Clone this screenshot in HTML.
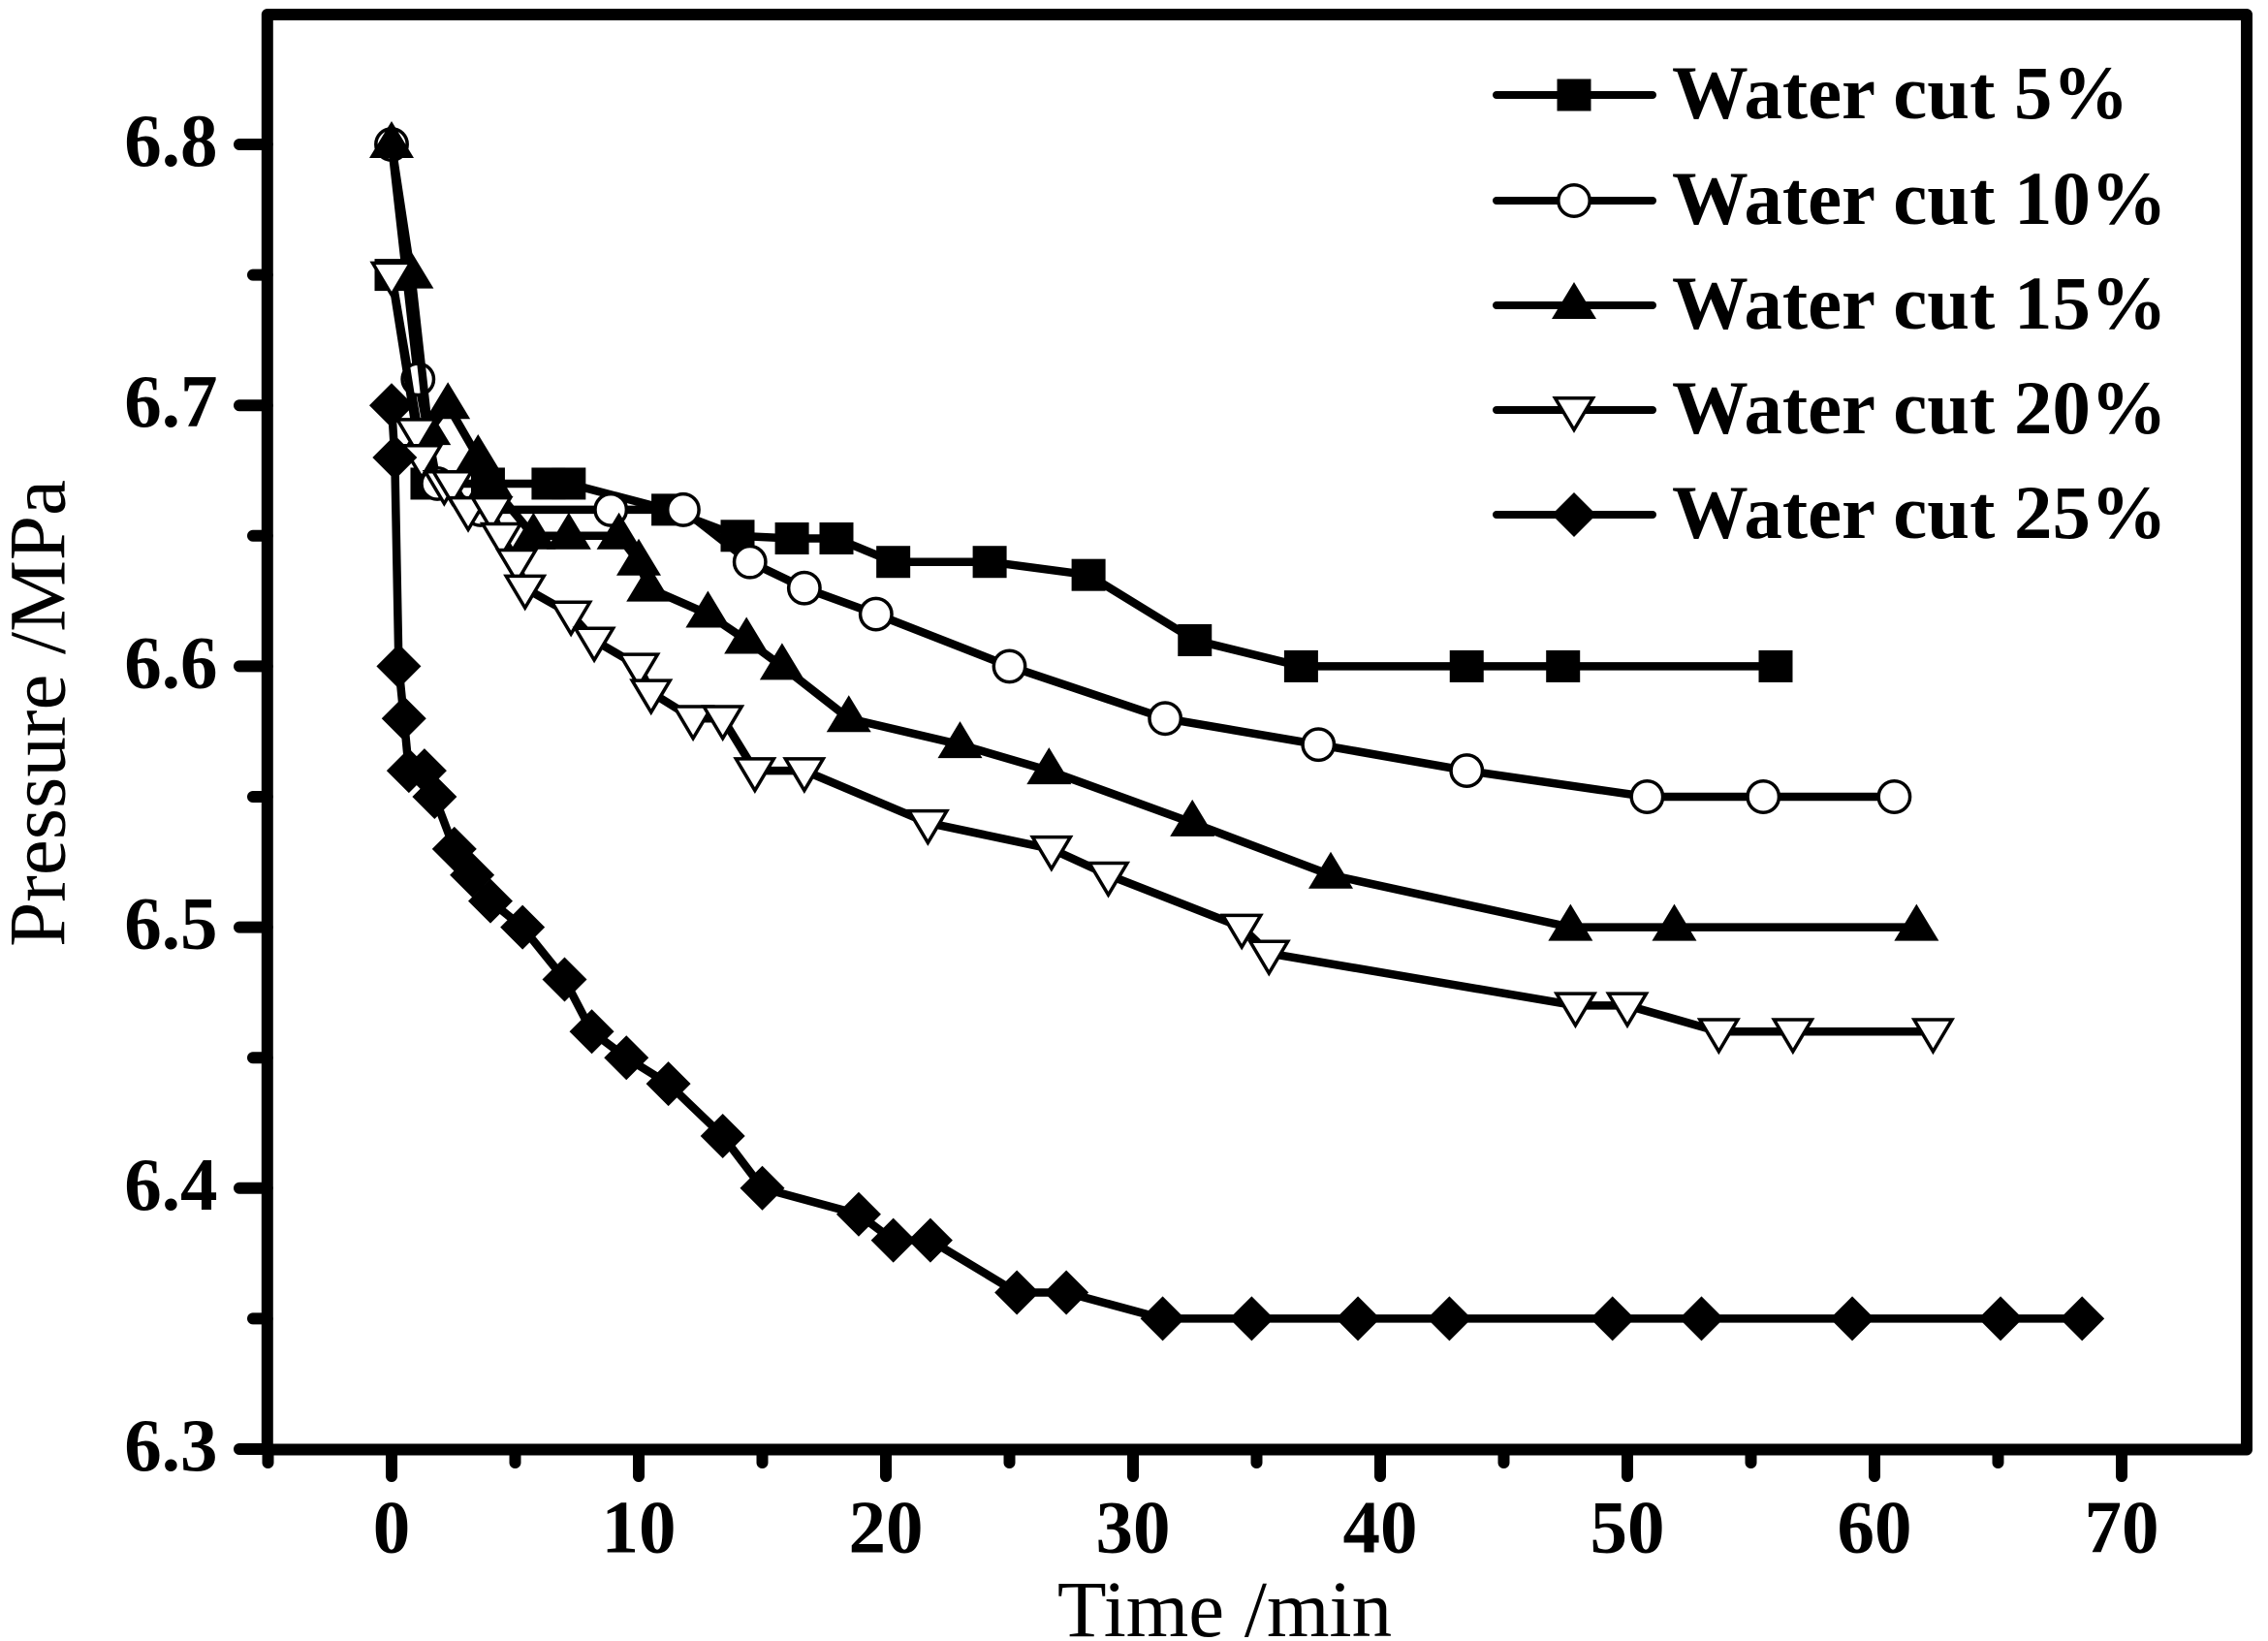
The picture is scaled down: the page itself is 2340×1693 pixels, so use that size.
<!DOCTYPE html>
<html lang="en">
<head>
<meta charset="utf-8">
<title>Pressure vs Time</title>
<style>
html,body{margin:0;padding:0;background:#fff;}
svg{display:block;}
text{font-family:"Liberation Serif",serif;fill:#000;}
</style>
</head>
<body>
<svg id="chart" xmlns="http://www.w3.org/2000/svg" width="2340" height="1693" viewBox="0 0 2340 1693">
<rect width="2340" height="1693" fill="#fff"/>
<g id="series-layer"></g>
<g id="axes-layer"></g>
<text x="1263.5" y="1688" font-size="83" text-anchor="middle">Time /min</text>
<text transform="translate(66.5,736) rotate(-90)" font-size="83" text-anchor="middle">Pressure /MPa</text>
<g id="legend-layer"></g>
</svg>
<script>
const xTickLabels = [0, 10, 20, 30, 40, 50, 60, 70];
const xMinorTicks = [-5, 5, 15, 25, 35, 45, 55, 65];
const yTickLabels = ['6.3', '6.4', '6.5', '6.6', '6.7', '6.8'];
const yMinorTicks = [6.35, 6.45, 6.55, 6.65, 6.75];

const seriesNames = ['Water cut 5%', 'Water cut 10%', 'Water cut 15%', 'Water cut 20%', 'Water cut 25%'];

const time5 = [0, 1.45, 3.9, 6.35, 7.17, 11.2, 14.0, 16.2, 18, 20.3, 24.2, 28.2, 32.5, 36.8, 43.5, 47.4, 56];
const pressure5 = [6.75, 6.67, 6.67, 6.67, 6.67, 6.66, 6.65, 6.649, 6.649, 6.64, 6.64, 6.635, 6.61, 6.6, 6.6, 6.6, 6.6];

const time10 = [0, 1.07, 1.85, 3.6, 8.87, 11.8, 14.5, 16.7, 19.6, 25, 31.3, 37.5, 43.5, 50.8, 55.5, 60.8];
const pressure10 = [6.8, 6.71, 6.67, 6.66, 6.66, 6.66, 6.64, 6.63, 6.62, 6.6, 6.58, 6.57, 6.56, 6.55, 6.55, 6.55];

const time15 = [0, 0.8, 1.5, 2.28, 3.5, 4, 5.74, 7.17, 9.2, 10, 10.4, 12.8, 14.36, 15.8, 18.5, 23, 26.6, 32.4, 38, 47.7, 51.9, 61.7];
const pressure15 = [6.8, 6.75, 6.69, 6.7, 6.68, 6.67, 6.65, 6.65, 6.65, 6.64, 6.63, 6.62, 6.61, 6.6, 6.58, 6.57, 6.56, 6.54, 6.52, 6.5, 6.5, 6.5];

const time20 = [0, 1, 1.22, 2.13, 2.46, 3.1, 4.04, 4.45, 5.07, 5.4, 7.26, 8.2, 10, 10.5, 12.2, 13.4, 14.7, 16.7, 21.7, 26.7, 29, 34.4, 35.5, 47.9, 50, 53.7, 56.7, 62.37];
const pressure20 = [6.75, 6.69, 6.68, 6.67, 6.67, 6.66, 6.66, 6.65, 6.64, 6.63, 6.62, 6.61, 6.6, 6.59, 6.58, 6.58, 6.56, 6.56, 6.54, 6.53, 6.52, 6.5, 6.49, 6.47, 6.47, 6.46, 6.46, 6.46];

const time25 = [0, 0.13, 0.29, 0.5, 0.7, 1.33, 1.74, 2.54, 3.26, 4, 5.3, 7, 8.1, 9.5, 11.2, 13.4, 15, 18.9, 20.3, 21.8, 25.3, 27.3, 31.2, 34.8, 39.1, 42.8, 49.4, 53, 59.1, 65.1, 68.4];
const pressure25 = [6.7, 6.68, 6.6, 6.58, 6.56, 6.56, 6.55, 6.53, 6.52, 6.51, 6.5, 6.48, 6.46, 6.45, 6.44, 6.42, 6.4, 6.39, 6.38, 6.38, 6.36, 6.36, 6.35, 6.35, 6.35, 6.35, 6.35, 6.35, 6.35, 6.35, 6.35];

const allTimes = [time5, time10, time15, time20, time25];
const allPressures = [pressure5, pressure10, pressure15, pressure20, pressure25];
const markerKinds = ['square', 'circle', 'up', 'down', 'diamond'];

const NS = 'http://www.w3.org/2000/svg';
function xScale(t) { return 404 + t * 25.5; }
function yScale(p) { return 1495 - (p - 6.3) * 2692; }

function make(tag, attrs, parent) {
  const el = document.createElementNS(NS, tag);
  for (const k in attrs) el.setAttribute(k, attrs[k]);
  parent.appendChild(el);
  return el;
}

function drawMarker(kind, cx, cy, parent) {
  let el;
  if (kind === 'square') {
    el = make('rect', {x: cx - 17.5, y: cy - 16.5, width: 35, height: 33, fill: '#000'}, parent);
  } else if (kind === 'circle') {
    el = make('circle', {cx: cx, cy: cy, r: 16.2, fill: '#fff', stroke: '#000', 'stroke-width': 3.5}, parent);
  } else if (kind === 'up') {
    const pts = [[cx, cy - 24], [cx + 23, cy + 14], [cx - 23, cy + 14]].map(p => p.join(',')).join(' ');
    el = make('polygon', {points: pts, fill: '#000'}, parent);
  } else if (kind === 'down') {
    const pts = [[cx - 19.5, cy - 12.25], [cx + 19.5, cy - 12.25], [cx, cy + 20.5]].map(p => p.join(',')).join(' ');
    el = make('polygon', {points: pts, fill: '#fff', stroke: '#000', 'stroke-width': 3.5}, parent);
  } else {
    const pts = [[cx, cy - 23], [cx + 23, cy], [cx, cy + 23], [cx - 23, cy]].map(p => p.join(',')).join(' ');
    el = make('polygon', {points: pts, fill: '#000'}, parent);
  }
  return el;
}

const seriesLayer = document.getElementById('series-layer');
allTimes.forEach(function (times, s) {
  const g = make('g', {}, seriesLayer);
  
  
  const pts = times.map((t, i) => xScale(t) + ',' + yScale(allPressures[s][i])).join(' ');
  const line = make('polyline', {points: pts, fill: 'none', stroke: '#000', 'stroke-width': 8.5, 'stroke-linejoin': 'round', 'stroke-linecap': 'round'}, g);
  
  
  times.forEach(function (t, i) {
    const m = drawMarker(markerKinds[s], xScale(t), yScale(allPressures[s][i]), g);
    
    
  });
});

const axes = document.getElementById('axes-layer');
const frame = make('rect', {x: 275.8, y: 15, width: 2042.2, height: 1480.5, fill: 'none', stroke: '#000', 'stroke-width': 12, 'stroke-linejoin': 'round'}, axes);



function tick(x1, y1, x2, y2, name) {
  const l = make('line', {x1: x1, y1: y1, x2: x2, y2: y2, stroke: '#000', 'stroke-width': 12, 'stroke-linecap': 'round'}, axes);
  
  
}

xTickLabels.forEach(function (v) {
  tick(xScale(v), 1495.5, xScale(v), 1523, 'x-major-tick');
  const t = make('text', {x: xScale(v), y: 1601.5, 'font-size': 77, 'font-weight': 'bold', 'text-anchor': 'middle'}, axes);
  t.textContent = v;
  
  
});
xMinorTicks.forEach(function (v) {
  tick(xScale(v), 1495.5, xScale(v), 1509, 'x-minor-tick');
});
yTickLabels.forEach(function (v) {
  const p = parseFloat(v);
  tick(275.8, yScale(p), 247, yScale(p), 'y-major-tick');
  const t = make('text', {x: 224.5, y: yScale(p) + 22, 'font-size': 77, 'font-weight': 'bold', 'text-anchor': 'end'}, axes);
  t.textContent = v;
  
  
});
yMinorTicks.forEach(function (v) {
  tick(275.8, yScale(v), 261, yScale(v), 'y-minor-tick');
});

const legend = document.getElementById('legend-layer');
const legendRows = [98, 207, 315, 423, 531];
seriesNames.forEach(function (name, s) {
  const g = make('g', {}, legend);
  
  
  const ly = legendRows[s];
  make('line', {x1: 1544, y1: ly, x2: 1705, y2: ly, stroke: '#000', 'stroke-width': 8, 'stroke-linecap': 'round'}, g);
  drawMarker(markerKinds[s], 1624, ly, g);
  const t = make('text', {x: 1725, y: ly + 24, 'font-size': 78.8, 'font-weight': 'bold'}, g);
  t.textContent = name;
});
</script>
</body>
</html>
